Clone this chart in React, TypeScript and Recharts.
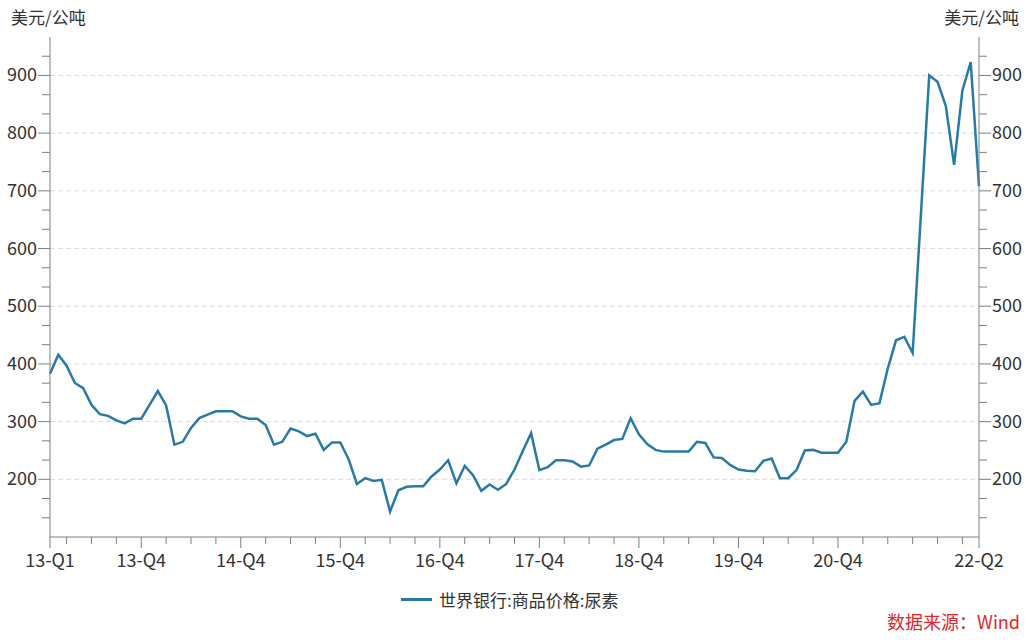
import React from "react";
import { LineChart, Line, XAxis, YAxis, ReferenceLine } from "recharts";

// World Bank urea price, monthly, Jan 2013 .. May 2022 (USD / tonne)
const urea2013 = [383, 416, 397, 367, 358, 329, 313, 310, 302, 297, 305, 305];
const urea2014 = [329, 353, 328, 260, 265, 289, 306, 312, 318, 318, 318, 309];
const urea2015 = [305, 305, 294, 260, 265, 288, 283, 275, 279, 251, 264, 264];
const urea2016 = [235, 192, 202, 197, 199, 144, 181, 187, 188, 188, 205, 217];
const urea2017 = [233, 193, 223, 207, 180, 191, 182, 192, 217, 249, 280, 216];
const urea2018 = [221, 233, 233, 231, 222, 224, 253, 260, 268, 270, 306, 278];
const urea2019 = [261, 251, 248, 248, 248, 248, 265, 263, 238, 237, 225, 217];
const urea2020 = [215, 214, 232, 236, 202, 202, 216, 250, 251, 246, 246, 246];
const urea2021 = [265, 336, 352, 329, 332, 392, 441, 447, 419, 660, 900, 889];
const urea2022 = [847, 745, 874, 923, 708];

const urea = [
  ...urea2013, ...urea2014, ...urea2015, ...urea2016, ...urea2017,
  ...urea2018, ...urea2019, ...urea2020, ...urea2021, ...urea2022,
];

// x ticks: month index of quarter ends, labelled ones separately
const xTicks = [
  0, 2, 5, 8, 11, 14, 17, 20, 23, 26, 29, 32, 35, 38, 41, 44, 47, 50, 53, 56,
  59, 62, 65, 68, 71, 74, 77, 80, 83, 86, 89, 92, 95, 98, 101, 104, 107, 110, 112,
];
const xMajor = [0, 11, 23, 35, 47, 59, 71, 83, 95, 112];
const xMajorLabels = ["13-Q1", "13-Q4", "14-Q4", "15-Q4", "16-Q4", "17-Q4", "18-Q4", "19-Q4", "20-Q4", "22-Q2"];

// y: minor tick every 100/3, labels + grid each 100
const yMajor = [200, 300, 400, 500, 600, 700, 800, 900];
const yTicks: number[] = [];
for (let k = 4; k <= 28; k++) yTicks.push((k * 100) / 3);

const data = urea.map((v, i) => ({ i, v }));

const FONT = '"Microsoft YaHei", "Noto Sans CJK SC", sans-serif';
const AXIS = "#808080";
const TEXT = "#333";

const isMajorY = (v: number) => yMajor.some((m) => Math.abs(m - v) < 0.01);

function XTick(props: any) {
  const { x, y, payload } = props;
  const k = xMajor.indexOf(payload.value);
  const major = k >= 0;
  return (
    <g>
      <line x1={x} x2={x} y1={y} y2={y + (major ? 11 : 7)} stroke={AXIS} />
      {major && (
        <text x={x} y={y + 30} textAnchor="middle" fontSize={18} fill={TEXT} fontFamily={FONT}>
          {xMajorLabels[k]}
        </text>
      )}
    </g>
  );
}

function YTick(props: any) {
  const { x, y, payload, side } = props;
  const major = isMajorY(payload.value);
  const dir = side === "left" ? -1 : 1;
  const len = major ? 12 : 8;
  return (
    <g>
      <line x1={x} x2={x + dir * len} y1={y} y2={y} stroke={AXIS} />
      {major && (
        <text
          x={x + dir * 13}
          y={y + 6}
          textAnchor={side === "left" ? "end" : "start"}
          fontSize={18}
          fill={TEXT}
          fontFamily={FONT}
        >
          {Math.round(payload.value)}
        </text>
      )}
    </g>
  );
}

export default function App() {
  return (
    <div style={{ position: "absolute", left: 0, top: 0, width: 1036, height: 640, background: "#fff", fontFamily: FONT }}>
      <div style={{ position: "absolute", left: 11, top: 4, fontSize: 17, color: TEXT }}>美元/公吨</div>
      <div style={{ position: "absolute", right: 17, top: 4, fontSize: 17, color: TEXT }}>美元/公吨</div>

      <LineChart width={1036} height={640} data={data} margin={{ top: 37, right: 0, bottom: 73, left: 0 }}>
        <XAxis
          dataKey="i"
          type="number"
          domain={[0, 112]}
          ticks={xTicks}
          interval={0}
          tickLine={false}
          tickSize={0}
          tickMargin={0}
          height={30}
          axisLine={{ stroke: AXIS }}
          tick={(p: any) => <XTick {...p} />}
        />
        <YAxis
          yAxisId="l"
          orientation="left"
          width={50}
          domain={[100, 2900 / 3]}
          ticks={yTicks}
          interval={0}
          allowDataOverflow
          tickLine={false}
          tickSize={0}
          tickMargin={0}
          axisLine={{ stroke: AXIS }}
          tick={(p: any) => <YTick {...p} side="left" />}
        />
        <YAxis
          yAxisId="r"
          orientation="right"
          width={57}
          domain={[100, 2900 / 3]}
          ticks={yTicks}
          interval={0}
          allowDataOverflow
          tickLine={false}
          tickSize={0}
          tickMargin={0}
          axisLine={{ stroke: AXIS }}
          tick={(p: any) => <YTick {...p} side="right" />}
        />
        {yMajor.map((g) => (
          <ReferenceLine key={g} yAxisId="l" y={g} stroke="#dcdcdc" strokeDasharray="5 3" />
        ))}
        <Line
          yAxisId="l"
          dataKey="v"
          type="linear"
          stroke="#2a7aa8"
          strokeWidth={2.5}
          dot={false}
          isAnimationActive={false}
        />
      </LineChart>

      <div style={{ position: "absolute", left: 401, top: 587, display: "flex", alignItems: "center", fontSize: 17, color: TEXT }}>
        <span style={{ display: "inline-block", width: 31, height: 3, background: "#2a7aa8", marginRight: 7 }} />
        <span>世界银行:商品价格:尿素</span>
      </div>
      <div style={{ position: "absolute", right: 16, top: 608, fontSize: 18, color: "#e3262b" }}>数据来源：Wind</div>
    </div>
  );
}
